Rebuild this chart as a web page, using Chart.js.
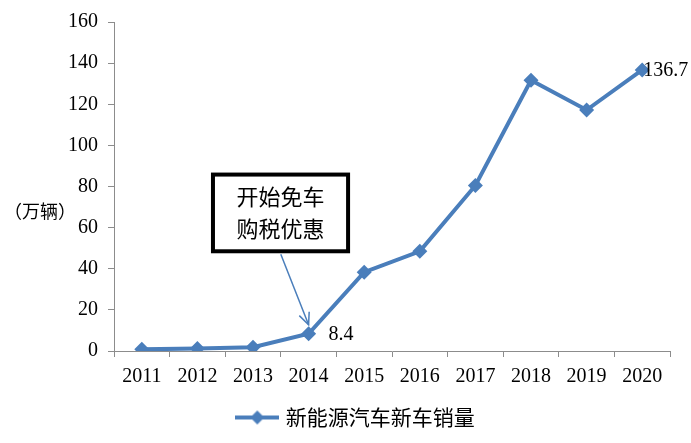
<!DOCTYPE html>
<html><head><meta charset="utf-8">
<script src="https://cdn.jsdelivr.net/npm/chart.js@4"></script>
<style>html,body{margin:0;padding:0;background:#fff}#wrap{width:691px;height:443px}</style>
</head><body><div id="wrap"><canvas id="c" width="691" height="443"></canvas></div>
<script>
const years = ['2011','2012','2013','2014','2015','2016','2017','2018','2019','2020'];
const sales = [0.8, 1.2, 1.8, 8.4, 38.3, 48.5, 80.5, 131.7, 117.2, 136.7];
const seriesName = '新能源汽车新车销量';
const yTicks = [0,20,40,60,80,100,120,140,160];
const unitLabel = '（万辆）';
const noteLines = ['开始免车','购税优惠'];
const labeledPoints = [3, 9];

const BLUE = '#4a7ebb';
const AXIS = '#8c8c8c';
const SERIF = '"Liberation Serif", "Times New Roman", serif';
const CJK = '"Noto Sans CJK SC", sans-serif';

// legend symbol: line with diamond
const sym = document.createElement('canvas');
sym.width = 44; sym.height = 16;
(function(){
  const g = sym.getContext('2d');
  g.strokeStyle = BLUE; g.lineWidth = 4;
  g.beginPath(); g.moveTo(0,8); g.lineTo(44,8); g.stroke();
  g.fillStyle = BLUE; g.beginPath();
  g.moveTo(22,1); g.lineTo(29,8); g.lineTo(22,15); g.lineTo(15,8); g.closePath(); g.fill();
})();

const overlay = {
  id: 'overlay',
  afterDatasetsDraw(chart) {
    const ctx = chart.ctx;
    const x = chart.scales.x, y = chart.scales.y;
    const meta = chart.getDatasetMeta(0);
    ctx.save();
    // data labels
    ctx.fillStyle = '#000';
    ctx.font = '20px ' + SERIF;
    ctx.textBaseline = 'middle';
    ctx.textAlign = 'left';
    labeledPoints.forEach(i => {
      const p = meta.data[i];
      const dx = i === 9 ? 1 : 20;
      ctx.fillText(String(sales[i]), p.x + dx, p.y + 1);
    });
    // unit label
    ctx.font = '18px ' + CJK;
    ctx.textAlign = 'left';
    ctx.fillText(unitLabel, 4, y.getPixelForValue(68));
    // annotation box
    const bx1 = x.getPixelForValue(1.28), bx2 = x.getPixelForValue(3.71);
    const by1 = y.getPixelForValue(85.8), by2 = y.getPixelForValue(48.5);
    ctx.fillStyle = '#fff';
    ctx.fillRect(bx1, by1, bx2 - bx1, by2 - by1);
    ctx.strokeStyle = '#000'; ctx.lineWidth = 4;
    ctx.strokeRect(bx1, by1, bx2 - bx1, by2 - by1);
    ctx.fillStyle = '#000';
    ctx.font = '22px ' + CJK;
    ctx.textAlign = 'center';
    const cx = (bx1 + bx2) / 2, cy = (by1 + by2) / 2;
    ctx.fillText(noteLines[0], cx, cy - 16);
    ctx.fillText(noteLines[1], cx, cy + 16);
    // arrow
    const p = meta.data[3];
    const sx = x.getPixelForValue(2.5), sy = by2 + 3;
    const ex = p.x, ey = p.y - 9;
    ctx.strokeStyle = BLUE; ctx.lineWidth = 1.5;
    ctx.beginPath(); ctx.moveTo(sx, sy); ctx.lineTo(ex, ey); ctx.stroke();
    const ang = Math.atan2(ey - sy, ex - sx);
    const L = 13, A = 0.42;
    ctx.beginPath();
    ctx.moveTo(ex - L*Math.cos(ang - A), ey - L*Math.sin(ang - A));
    ctx.lineTo(ex, ey);
    ctx.lineTo(ex - L*Math.cos(ang + A), ey - L*Math.sin(ang + A));
    ctx.stroke();
    ctx.restore();
  }
};

new Chart(document.getElementById('c'), {
  type: 'line',
  data: {
    labels: years,
    datasets: [{
      label: seriesName,
      data: sales,
      borderColor: BLUE,
      backgroundColor: BLUE,
      borderWidth: 4,
      pointStyle: 'rectRot',
      pointRadius: 7.5,
      pointHoverRadius: 7.5,
      pointBackgroundColor: BLUE,
      pointBorderColor: BLUE,
      pointBorderWidth: 0,
      tension: 0
    }]
  },
  options: {
    responsive: false,
    animation: false,
    devicePixelRatio: 1,
    layout: { padding: { left: 44, right: 21, top: 20, bottom: 5 } },
    plugins: {
      tooltip: { enabled: false },
      legend: {
        position: 'bottom',
        labels: {
          usePointStyle: true,
          pointStyle: sym,
          pointStyleWidth: 36,
          boxWidth: 36,
          boxHeight: 16,
          padding: 6,
          color: '#000',
          font: { family: CJK, size: 21 },
          generateLabels(chart) {
            return [{ text: seriesName, pointStyle: sym, fillStyle: BLUE, strokeStyle: BLUE, lineWidth: 0, datasetIndex: 0, hidden: false }];
          }
        }
      }
    },
    scales: {
      x: {
        offset: true,
        afterFit(s) { s.height = 50; },
        grid: { offset: true, drawOnChartArea: false, drawTicks: true, tickLength: 6, color: AXIS },
        border: { color: AXIS, width: 1 },
        ticks: { color: '#000', font: { family: SERIF, size: 20 }, padding: 8, maxRotation: 0 }
      },
      y: {
        min: 0, max: 160,
        afterFit(s) { s.width = 70; },
        afterBuildTicks(s) { s.ticks = yTicks.map(v => ({ value: v })); },
        grid: { drawOnChartArea: false, drawTicks: true, tickLength: 6, color: AXIS },
        border: { color: AXIS, width: 1 },
        ticks: { color: '#000', font: { family: SERIF, size: 20 }, padding: 10 }
      }
    }
  },
  plugins: [overlay]
});
</script>
</body></html>
